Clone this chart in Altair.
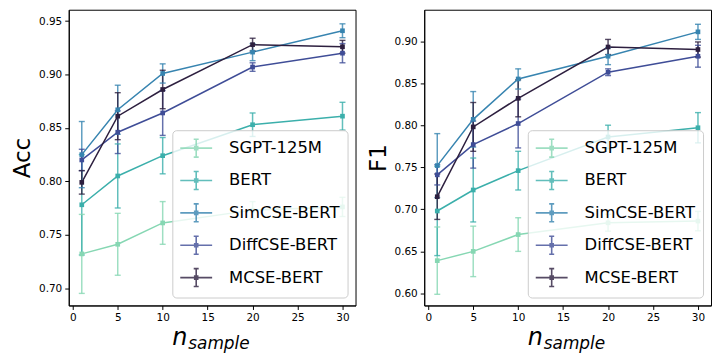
import altair as alt
import pandas as pd

x_vals = [1, 5, 10, 20, 30]
models = ["SGPT-125M", "BERT", "SimCSE-BERT", "DiffCSE-BERT", "MCSE-BERT"]
colors = ["#86d7b3", "#3bafab", "#3784b0", "#3f4d97", "#2d1f3f"]

# Accuracy (left panel): means and error half-widths
acc_sgpt = [0.732, 0.741, 0.761, 0.773, 0.776]
acc_sgpt_err = [0.037, 0.029, 0.020, 0.008, 0.009]
acc_bert = [0.778, 0.805, 0.824, 0.853, 0.861]
acc_bert_err = [0.047, 0.030, 0.017, 0.011, 0.013]
acc_simcse = [0.825, 0.867, 0.901, 0.921, 0.941]
acc_simcse_err = [0.031, 0.023, 0.009, 0.008, 0.0065]
acc_diffcse = [0.820, 0.846, 0.864, 0.907, 0.920]
acc_diffcse_err = [0.010, 0.020, 0.021, 0.004, 0.009]
acc_mcse = [0.799, 0.861, 0.886, 0.928, 0.926]
acc_mcse_err = [0.011, 0.022, 0.018, 0.006, 0.006]

# F1 (right panel)
f1_sgpt = [0.639, 0.650, 0.670, 0.684, 0.686]
f1_sgpt_err = [0.040, 0.030, 0.020, 0.010, 0.0115]
f1_bert = [0.698, 0.723, 0.746, 0.786, 0.797]
f1_bert_err = [0.053, 0.038, 0.023, 0.014, 0.018]
f1_simcse = [0.752, 0.807, 0.855, 0.882, 0.911]
f1_simcse_err = [0.038, 0.033, 0.012, 0.010, 0.009]
f1_diffcse = [0.741, 0.777, 0.802, 0.863, 0.882]
f1_diffcse_err = [0.012, 0.028, 0.029, 0.004, 0.013]
f1_mcse = [0.715, 0.798, 0.832, 0.893, 0.890]
f1_mcse_err = [0.027, 0.029, 0.022, 0.009, 0.009]

acc_ticks = [0.70, 0.75, 0.80, 0.85, 0.90, 0.95]
f1_ticks = [0.60, 0.65, 0.70, 0.75, 0.80, 0.85, 0.90]
x_ticks = [0, 5, 10, 15, 20, 25, 30]


def make_df(series):
    rows = []
    for name, (vals, errs) in zip(models, series):
        for xv, v, e in zip(x_vals, vals, errs):
            rows.append({"model": name, "x": xv, "val": v, "lo": v - e, "hi": v + e})
    return pd.DataFrame(rows)


acc_df = make_df([(acc_sgpt, acc_sgpt_err), (acc_bert, acc_bert_err),
                  (acc_simcse, acc_simcse_err), (acc_diffcse, acc_diffcse_err),
                  (acc_mcse, acc_mcse_err)])
f1_df = make_df([(f1_sgpt, f1_sgpt_err), (f1_bert, f1_bert_err),
                 (f1_simcse, f1_simcse_err), (f1_diffcse, f1_diffcse_err),
                 (f1_mcse, f1_mcse_err)])

LEGEND_PATH = ("M-1,0H2.2M0.6,-0.9V0.9M0.35,-0.9H0.85M0.35,0.9H0.85"
               "M0.45,-0.15H0.75V0.15H0.45Z")

W, H = 288, 297
FONT = "DejaVu Sans"


def panel(df, ytitle, ydom, yticks):
    base = alt.Chart(df)
    xs = alt.Scale(domain=[-0.45, 31.45], nice=False, zero=False)
    ys = alt.Scale(domain=ydom, nice=False, zero=False)
    x_axis = alt.Axis(values=x_ticks, title=None)
    y_axis = alt.Axis(values=yticks, format=".2f", title=ytitle)
    x_enc = alt.X("x:Q", scale=xs, axis=x_axis)

    def y_enc(f):
        return alt.Y(f, scale=ys, axis=y_axis, title=ytitle)

    cscale = alt.Scale(domain=models, range=colors)
    color_leg = alt.Color(
        "model:N", scale=cscale, sort=models,
        legend=alt.Legend(
            title=None, orient="bottom-right", offset=8,
            symbolType=LEGEND_PATH, symbolSize=400, symbolStrokeWidth=1.6,
            symbolOpacity=0.8, labelFontSize=16.5, labelFont=FONT,
            labelColor="black", labelOffset=28, rowPadding=6.5, padding=7,
            fillColor="rgba(255,255,255,0.8)", strokeColor="#cccccc",
            cornerRadius=4,
        ),
    )
    color_nol = alt.Color("model:N", scale=cscale, sort=models, legend=None)

    line = base.mark_line(strokeWidth=1.5).encode(
        x=x_enc, y=y_enc("val:Q"), color=color_leg)
    pts = base.mark_point(shape="square", filled=True, size=22, opacity=1).encode(
        x=x_enc, y=y_enc("val:Q"), color=color_nol)
    bars = base.mark_rule(strokeWidth=1.5, opacity=0.8).encode(
        x=x_enc, y=y_enc("lo:Q"), y2="hi:Q", color=color_nol)
    cap_lo = base.mark_tick(orient="horizontal", size=6, thickness=1.4, opacity=0.8).encode(
        x=x_enc, y=y_enc("lo:Q"), color=color_nol)
    cap_hi = base.mark_tick(orient="horizontal", size=6, thickness=1.4, opacity=0.8).encode(
        x=x_enc, y=y_enc("hi:Q"), color=color_nol)

    n_txt = alt.Chart(pd.DataFrame({"t": ["n"]})).mark_text(
        font=FONT, fontStyle="italic", fontSize=24, align="left",
        baseline="alphabetic", color="black").encode(
        x=alt.value(104), y=alt.value(337), text="t:N")
    s_txt = alt.Chart(pd.DataFrame({"t": ["sample"]})).mark_text(
        font=FONT, fontStyle="italic", fontSize=17, align="left",
        baseline="alphabetic", color="black").encode(
        x=alt.value(120), y=alt.value(341), text="t:N")

    return alt.layer(line, bars, cap_lo, cap_hi, pts, n_txt, s_txt).properties(
        width=W, height=H)


left = panel(acc_df, "Acc", [0.6837, 0.9607], acc_ticks)
right = panel(f1_df, "F1", [0.5857, 0.9373], f1_ticks)

chart = (
    alt.hconcat(left, right, spacing=10)
    .resolve_scale(color="independent")
    .resolve_legend(color="independent")
    .properties(padding={"left": 3, "top": 0, "right": 0, "bottom": 0})
    .configure_view(stroke="black", strokeWidth=1)
    .configure_axis(
        domainColor="black", tickColor="black", labelColor="black",
        titleColor="black", labelFont=FONT, titleFont=FONT,
        labelFontSize=10.5, titleFontSize=23, titleFontWeight="normal",
        tickSize=4, labelPadding=3, grid=False, domainWidth=1, tickWidth=1,
    )
    .configure_axisY(titlePadding=4)
)

chart.save("out.html", embed_options={"renderer": "svg", "actions": False})
